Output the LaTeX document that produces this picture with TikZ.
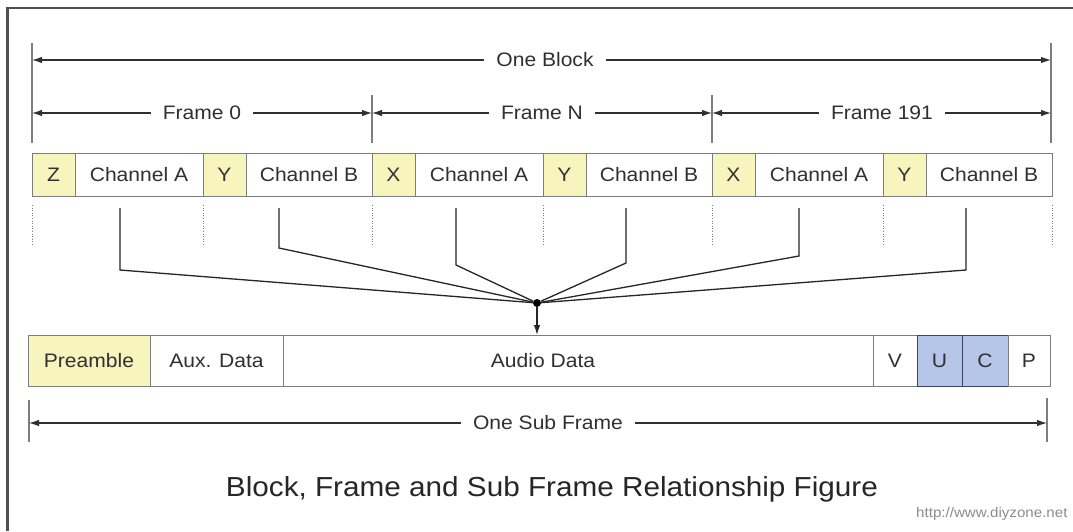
\documentclass[tikz,border=0pt]{standalone}
\usepackage{fontspec}
\setmainfont[FakeStretch=1.08]{Liberation Sans}
\usetikzlibrary{arrows.meta,calc}
\definecolor{cellyellow}{RGB}{248,244,190}
\definecolor{cellblue}{RGB}{182,198,232}
\definecolor{blueedge}{RGB}{60,70,100}
\definecolor{ink}{RGB}{48,48,48}
\definecolor{rulegray}{RGB}{125,125,125}
\definecolor{framegray}{RGB}{80,80,80}
\definecolor{urlgray}{RGB}{140,140,140}
\begin{document}
\begin{tikzpicture}[x=1pt,y=-1pt,
  lbl/.style={text=ink,font=\fontsize{19.5}{22}\selectfont},
  cell/.style={lbl,draw=rulegray,line width=1pt,minimum height=43pt,
    inner sep=0pt,outer sep=0pt,anchor=north west},
  ycell/.style={cell,fill=cellyellow},
  wcell/.style={cell,fill=white},
  subcell/.style={cell,minimum height=51pt},
  bcell/.style={subcell,fill=cellblue,draw=blueedge},
  tip/.style={-{Latex[length=10pt,width=6.5pt]}},
  dim/.style={draw=ink,line width=1.1pt,tip},
  tickline/.style={draw=rulegray,line width=1.2pt},
  dimlabel/.style={lbl,fill=white,inner xsep=12pt,inner ysep=2pt},
  guide/.style={draw=rulegray,line width=1pt,dash pattern=on 1pt off 1.6pt},
  conn/.style={draw=black!85,line width=1.3pt}]
\useasboundingbox (0,0) rectangle (1073,531);
\fill[white] (0,0) rectangle (1073,531);

% outer frame (top and left edges)
\draw[framegray,line width=2.5pt] (7.5,531) -- (7.5,8) -- (1073,8);

% ---- one block: three frames of two sub frames each ----
\foreach \f/\x/\p in {0/32/Z,1/372/X,2/712/X}{
  \node[ycell,minimum width=43pt] (p\f) at (\x,153) {\p};
  \node[wcell,minimum width=128pt] (a\f) at (p\f.north east) {Channel A};
  \node[ycell,minimum width=43pt] (y\f) at (a\f.north east) {Y};
  \node[wcell,minimum width=126pt] (b\f) at (y\f.north east) {Channel B};
  \draw[guide] (p\f.south west) ++(0,9) -- ++(0,40);
  \draw[guide] (y\f.south west) ++(0,9) -- ++(0,40);
}
\draw[guide] (b2.south east) ++(0,9) -- ++(0,40);

% ---- dimension lines above the block ----
\coordinate (bL) at (32,60);
\coordinate (bR) at (1051,60);
\coordinate (f1) at (372,113);
\coordinate (f2) at (712,113);
\draw[tickline] (bL) ++(0,-17) -- ++(0,100);
\draw[tickline] (bR) ++(0,-17) -- ++(0,100);
\draw[tickline] (f1) ++(0,-18) -- ++(0,48);
\draw[tickline] (f2) ++(0,-18) -- ++(0,48);

\node[dimlabel] (blk) at (545,60) {One Block};
\draw[dim] (blk.west) -- (bL);
\draw[dim] (blk.east) -- (bR);

\node[dimlabel] (fr0) at (202,113) {Frame 0};
\node[dimlabel] (frN) at (542,113) {Frame N};
\node[dimlabel] (frL) at (882,113) {Frame 191};
\draw[dim] (fr0.west) -- (bL |- fr0);
\draw[dim] (fr0.east) -- (f1);
\draw[dim] (frN.west) -- (f1);
\draw[dim] (frN.east) -- (f2);
\draw[dim] (frL.west) -- (f2);
\draw[dim] (frL.east) -- (bR |- frL);

% ---- channels gathered into one sub frame ----
\node[circle,fill=black,inner sep=0pt,minimum size=8pt] (hub) at (537,303) {};
\foreach \n/\dx/\len in {a0/45/62,b0/33/40,a1/41/57,b1/40/55,a2/44/48,b2/40/62}{
  \draw[conn] (\n.south west) ++(\dx,12) -- ++(0,\len) -- (hub);
}

% ---- sub frame ----
\node[subcell,fill=cellyellow,minimum width=122pt] (pre) at (28,335) {Preamble};
\node[subcell,fill=white,minimum width=133pt] (aux) at (pre.north east) {Aux. Data};
\node[subcell,fill=white,minimum width=590pt] (audio) at (aux.north east) {};
\node[lbl,anchor=base,inner sep=0pt] (audiotxt) at (543,0 |- pre.base) {Audio Data};
\node[subcell,fill=white,minimum width=44pt] (v) at (audio.north east) {V};
\node[bcell,minimum width=45pt] (u) at (v.north east) {U};
\node[bcell,minimum width=46pt] (c) at (u.north east) {C};
\node[subcell,fill=white,minimum width=42pt] (p) at (c.north east) {P};
\draw[conn,tip] (hub) -- (hub |- audio.north);

% ---- sub frame dimension line ----
\coordinate (sL) at (29,423);
\coordinate (sR) at (1047,423);
\draw[tickline] (sL) ++(0,-23) -- ++(0,42);
\draw[tickline] (sR) ++(0,-25) -- ++(0,44);
\node[dimlabel] (sub) at (548,423) {One Sub Frame};
\draw[dim] (sub.west) -- (sL);
\draw[dim] (sub.east) -- (sR);

% ---- caption ----
\node[text=black!85,font=\fontsize{27.5}{32}\selectfont] (title) at (552,489)
  {Block, Frame and Sub Frame Relationship Figure};
\node[text=urlgray,font=\fontsize{14}{16}\selectfont,anchor=east] (url) at (1071,514)
  {http://www.diyzone.net};
\end{tikzpicture}
\end{document}
